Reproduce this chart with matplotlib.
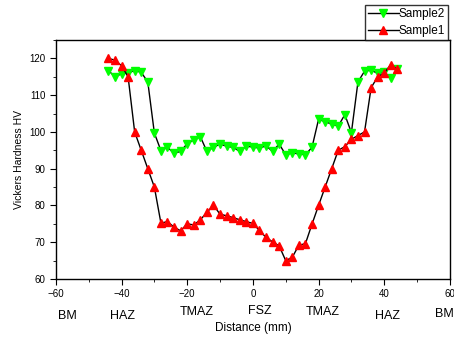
import matplotlib
matplotlib.use("Agg")
import matplotlib.pyplot as plt
from matplotlib.ticker import MultipleLocator
import matplotlib.transforms as mtransforms

plt.rcParams["font.family"] = ["Liberation Sans", "DejaVu Sans"]

distance = [-44, -42, -40, -38, -36, -34, -32, -30, -28, -26, -24, -22, -20, -18, -16,
            -14, -12, -10, -8, -6, -4, -2, 0, 2, 4, 6, 8, 10, 12, 14,
            16, 18, 20, 22, 24, 26, 28, 30, 32, 34, 36, 38, 40, 42, 44]

sample1 = [120, 119.5, 118, 115, 100, 95, 90, 85, 75.2, 75.6, 74.1, 73.1, 75, 74.7, 76.1,
           78.1, 80.1, 77.6, 77.2, 76.7, 76.1, 75.6, 75.1, 73.2, 71.3, 70.1, 69, 65, 65.9, 69.2,
           69.6, 74.9, 80, 85, 90, 95, 96, 98, 99, 100, 112, 115, 116, 118.3, 117]

sample2 = [116.7, 115, 115.8, 116, 116.7, 116.2, 113.6, 99.7, 94.9, 95.8, 94.2, 94.7, 96.8, 97.8, 98.7,
           94.7, 95.8, 96.7, 96.1, 95.8, 94.7, 96.1, 95.9, 95.6, 96.2, 94.7, 96.7, 93.8, 94.3, 94,
           93.8, 95.8, 103.4, 102.8, 102.1, 101.6, 104.7, 99.8, 113.6, 116.5, 116.8, 115.9, 116.2, 114.7, 117]

zone_labels = ["BM", "HAZ", "TMAZ", "FSZ", "TMAZ", "HAZ", "BM"]
zone_x = [-56.4, -39.6, -17, 2.1, 21.3, 40.9, 58.3]
zone_y = [-0.155, -0.155, -0.14, -0.135, -0.14, -0.155, -0.145]

fig = plt.figure(figsize=(4.54, 3.38), dpi=100)
ax = fig.add_axes([0.123, 0.1746, 0.868, 0.7071])

ax.plot(distance, sample2, color="black", lw=1, marker="v", ms=6,
        mfc="#00ff00", mec="#00ff00", label="Sample2")
ax.plot(distance, sample1, color="black", lw=1, marker="^", ms=6,
        mfc="#ff0000", mec="#ff0000", label="Sample1")

ax.set_xlim(-60, 60)
ax.set_ylim(60, 125)
ax.xaxis.set_major_locator(MultipleLocator(20))
ax.xaxis.set_minor_locator(MultipleLocator(10))
ax.yaxis.set_major_locator(MultipleLocator(10))
ax.yaxis.set_minor_locator(MultipleLocator(5))
ax.tick_params(which="both", direction="out", labelsize=7, top=False, right=False)
ax.tick_params(which="major", length=4)
ax.tick_params(which="minor", length=2.5)
for s in ax.spines.values():
    s.set_linewidth(1)

ax.set_ylabel("Vickers Hardness HV", fontsize=7.5, labelpad=4)
ax.set_xlabel("Distance (mm)", fontsize=8.5, labelpad=16)

trans = mtransforms.blended_transform_factory(ax.transData, ax.transAxes)
for lab, x, y in zip(zone_labels, zone_x, zone_y):
    ax.text(x, y, lab, transform=trans, ha="center", va="center",
            fontsize=9, clip_on=False)

ax.legend(loc="upper right", bbox_to_anchor=(0.995, 1.146), fontsize=8.5,
          frameon=True, fancybox=False, edgecolor="black", handlelength=2.6,
          handletextpad=0.0, borderpad=0.25, labelspacing=0.4, borderaxespad=0)

fig.savefig("out.png", dpi=100)
